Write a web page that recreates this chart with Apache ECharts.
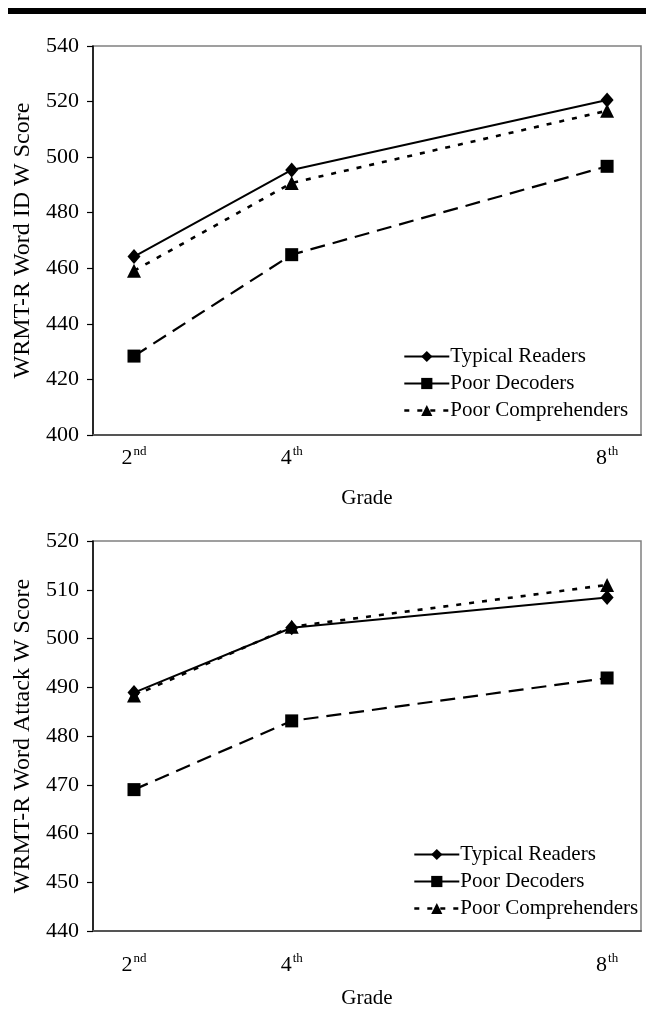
<!DOCTYPE html>
<html>
<head>
<meta charset="utf-8">
<script src="https://cdn.jsdelivr.net/npm/echarts@6/dist/echarts.min.js"></script>
<style>
html,body{margin:0;padding:0;background:#fff;}
#chart{width:646px;height:1021px;}
</style>
</head>
<body>
<div id="chart"></div>
<script>
// ---- data ----
var grades = [2, 4, 8];
var gradeNumber = ['2', '4', '8'];
var gradeSuffix = ['nd', 'th', 'th'];
var seriesNames = ['Typical Readers', 'Poor Decoders', 'Poor Comprehenders'];

// WRMT-R Word ID W Score
var idTypical = [464.2, 495.4, 520.6];
var idDecoders = [428.4, 464.9, 496.7];
var idComprehenders = [459.1, 490.7, 516.7];

// WRMT-R Word Attack W Score
var attTypical = [488.9, 502.2, 508.4];
var attDecoders = [469.0, 483.1, 491.9];
var attComprehenders = [488.3, 502.4, 511.0];

var idTicks = [400, 540, 20];
var attTicks = [440, 520, 10];

var FONT = "'Liberation Serif', 'Times New Roman', serif";

function pairs(vals) {
  return grades.map(function (g, i) { return [g, vals[i]]; });
}
function gradeLabel(v) {
  var i = grades.indexOf(v);
  if (i < 0) return '';
  return '{n|' + gradeNumber[i] + '}{s|' + gradeSuffix[i] + '}';
}

var styles = [
  { symbol: 'diamond', symbolSize: [13, 15], lineStyle: { color: '#000', width: 2, type: 'solid' } },
  { symbol: 'rect', symbolSize: 13, lineStyle: { color: '#000', width: 2.2, type: [15, 8] } },
  { symbol: 'triangle', symbolSize: 14, lineStyle: { color: '#000', width: 2.6, type: [5, 8] } }
];

function makeSeries(gridIdx, arrays) {
  return arrays.map(function (vals, k) {
    return {
      name: seriesNames[k],
      type: 'line',
      xAxisIndex: gridIdx,
      yAxisIndex: gridIdx,
      data: pairs(vals),
      symbol: styles[k].symbol,
      symbolSize: styles[k].symbolSize,
      showSymbol: true,
      itemStyle: { color: '#000', borderWidth: 0 },
      lineStyle: styles[k].lineStyle,
      z: 3 - k,
      animation: false
    };
  });
}

function xAxisDef(gridIdx, labelMargin, nameGap) {
  return {
    type: 'value', gridIndex: gridIdx, min: 1.48, max: 8.43,
    name: 'Grade', nameLocation: 'middle', nameGap: nameGap,
    nameTextStyle: { fontFamily: FONT, fontSize: 21, color: '#000' },
    axisLine: { show: true, onZero: false, lineStyle: { color: '#555', width: 2 } },
    axisTick: { show: false },
    splitLine: { show: false },
    axisLabel: {
      customValues: grades, margin: labelMargin, formatter: gradeLabel, color: '#000',
      rich: {
        n: { fontFamily: FONT, fontSize: 22, color: '#000', lineHeight: 24, verticalAlign: 'bottom' },
        s: { fontFamily: FONT, fontSize: 13, color: '#000', lineHeight: 24, verticalAlign: 'top', padding: [0, 0, 10, 1] }
      }
    }
  };
}
function yAxisDef(gridIdx, ticks, title) {
  return {
    type: 'value', gridIndex: gridIdx, min: ticks[0], max: ticks[1], interval: ticks[2],
    name: title, nameLocation: 'middle', nameGap: 58, nameRotate: 90,
    nameTextStyle: { fontFamily: FONT, fontSize: 24, color: '#000' },
    axisLine: { show: true, lineStyle: { color: '#000', width: 1.5 } },
    axisTick: { show: true, length: 6, lineStyle: { color: '#000', width: 1.2 } },
    splitLine: { show: false },
    axisLabel: { fontFamily: FONT, fontSize: 22, color: '#000', margin: 14 }
  };
}
function legendDef(left, top) {
  return {
    orient: 'vertical', left: left, top: top, itemWidth: 45, itemHeight: 14, itemGap: 6,
    textStyle: { fontFamily: FONT, fontSize: 21, color: '#000', padding: [0, 0, 0, -4] },
    data: [
      { name: seriesNames[0], lineStyle: { type: 'solid', width: 2 } },
      { name: seriesNames[1], lineStyle: { type: 'solid', width: 2.2 } },
      { name: seriesNames[2], lineStyle: { type: [5, 8], width: 2.6 } }
    ],
    selectedMode: false
  };
}

var chart = echarts.init(document.getElementById('chart'), null, { renderer: 'canvas' });
chart.setOption({
  animation: false,
  backgroundColor: '#fff',
  graphic: [{ type: 'rect', shape: { x: 8, y: 8, width: 646, height: 6 }, style: { fill: '#000' } }],
  grid: [
    { left: 93, right: 5, top: 46, height: 389, show: true, borderColor: '#808080', borderWidth: 1.5, backgroundColor: 'transparent' },
    { left: 93, right: 5, top: 541, height: 390, show: true, borderColor: '#808080', borderWidth: 1.5, backgroundColor: 'transparent' }
  ],
  legend: [legendDef(398, 341), legendDef(408, 839)],
  xAxis: [xAxisDef(0, 10, 53), xAxisDef(1, 21, 57)],
  yAxis: [yAxisDef(0, idTicks, 'WRMT-R Word ID W Score'), yAxisDef(1, attTicks, 'WRMT-R Word Attack W Score')],
  series: makeSeries(0, [idTypical, idDecoders, idComprehenders])
    .concat(makeSeries(1, [attTypical, attDecoders, attComprehenders]))
});
</script>
</body>
</html>
